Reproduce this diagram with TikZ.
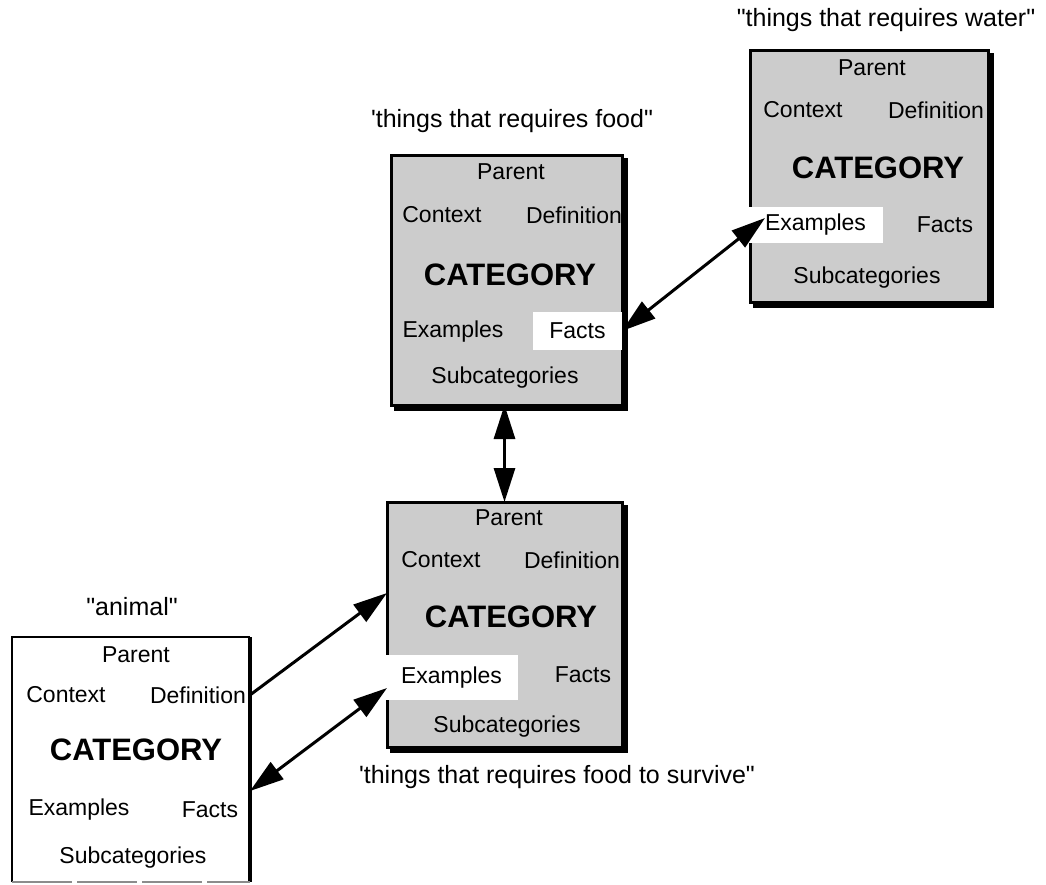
\documentclass[tikz,border=0pt]{standalone}
\usepackage{fontspec}
\setmainfont{Liberation Sans}[Ligatures=TeXOff]
\usetikzlibrary{arrows.meta,calc}

\begin{document}
\begin{tikzpicture}[x=1pt,y=-1pt,
  lbl/.style={font=\fontsize{25}{30}\selectfont, inner sep=0pt},
  txt/.style={font=\fontsize{23}{28}\selectfont, inner sep=0pt},
  cat/.style={font=\bfseries\fontsize{31}{36}\selectfont, inner sep=0pt},
  shadbox/.style={draw=black, line width=3pt, fill=black!20, inner sep=0pt, outer sep=0pt,
    preaction={draw=black, fill=black, transform canvas={shift={(4pt,-4pt)}}}},
  plainbox/.style={fill=white, inner sep=0pt, outer sep=0pt},
  slot/.style={fill=white, inner sep=0pt, outer sep=0pt, font=\fontsize{23}{28}\selectfont},
  link/.style={line width=3pt, {Triangle[length=34pt,width=21pt]}-{Triangle[length=34pt,width=21pt]}},
  onelink/.style={line width=3pt, -{Triangle[length=34pt,width=21pt]}}
]
\useasboundingbox (0,0) rectangle (1046,884);

% ---- category "things that requires water"
\node[shadbox, minimum width=238pt, minimum height=252pt] (C) at (869,176) {};
\node[lbl] (Clbl) at (886,20) {"things that requires water"};
\node[txt] (cPar) at (872,68) {Parent};
\node[txt] (cCtx) at (803,110) {Context};
\node[txt] (cDef) at (936,110) {Definition};
\node[cat] (cCat) at (878,168) {CATEGORY};
\node[slot, minimum width=135pt, minimum height=36pt] (cEx) at (815.5,225) {Examples};
\node[txt] (cFac) at (945,225) {Facts};
\node[txt] (cSub) at (867,278) {Subcategories};

% ---- category "things that requires food"
\node[shadbox, minimum width=231pt, minimum height=250pt] (B) at (506.5,280) {};
\node[lbl] (Blbl) at (512,121) {'things that requires food"};
\node[txt] (bPar) at (511,172) {Parent};
\node[txt] (bCtx) at (442,215) {Context};
\node[txt] (bDef) at (574,215) {Definition};
\node[cat] (bCat) at (510,275) {CATEGORY};
\node[txt] (bEx) at (453,332) {Examples};
\node[slot, minimum width=89pt, minimum height=38pt] (bFacts) at (577.5,331) {Facts};
\node[txt] (bSub) at (505,378) {Subcategories};

% ---- category "things that requires food to survive"
\node[shadbox, minimum width=235pt, minimum height=245pt] (D) at (504.5,624.5) {};
\node[lbl] (Dlbl) at (557,777) {'things that requires food to survive"};
\node[txt] (dPar) at (509,518) {Parent};
\node[txt] (dCtx) at (441,560) {Context};
\node[txt] (dDef) at (572,560) {Definition};
\node[cat] (dCat) at (511,617) {CATEGORY};
\node[slot, minimum width=133pt, minimum height=45pt] (dEx) at (451.5,677.5) {Examples};
\node[txt] (dFac) at (583,675) {Facts};
\node[txt] (dSub) at (507,727) {Subcategories};

% ---- category "animal"
\node[plainbox, minimum width=238pt, minimum height=245pt] (A) at (131,759.5) {};
\draw[line width=2.5pt] (A.south west) -- (A.north west) -- (A.north east);
\draw[line width=4.5pt] (A.north east) -- (A.south east);
\draw[black!45, line width=1.5pt, dash pattern=on 60pt off 5pt] (A.south west) -- (A.south east);
\node[lbl] (Albl) at (132,607) {"animal"};
\node[txt] (aPar) at (136,655) {Parent};
\node[txt] (aCtx) at (66,695) {Context};
\node[txt] (aDef) at (198,695) {Definition};
\node[cat] (aCat) at (136,750) {CATEGORY};
\node[txt] (aEx) at (79,810) {Examples};
\node[txt] (aFac) at (210,810) {Facts};
\node[txt] (aSub) at (133,858) {Subcategories};

% ---- links between the categories
\draw[link] (bFacts.east) -- ($(cEx.west)+(17,-7)$);
\draw[link] (D.north |- B.south) -- (D.north);
\draw[onelink] (A.east |- aDef) -- ($(D.north west)+(0,91)$);
\draw[link] ($(A.east |- aFac)+(0,-19)$) -- ($(D.north west)+(0,186)$);
\end{tikzpicture}
\end{document}
